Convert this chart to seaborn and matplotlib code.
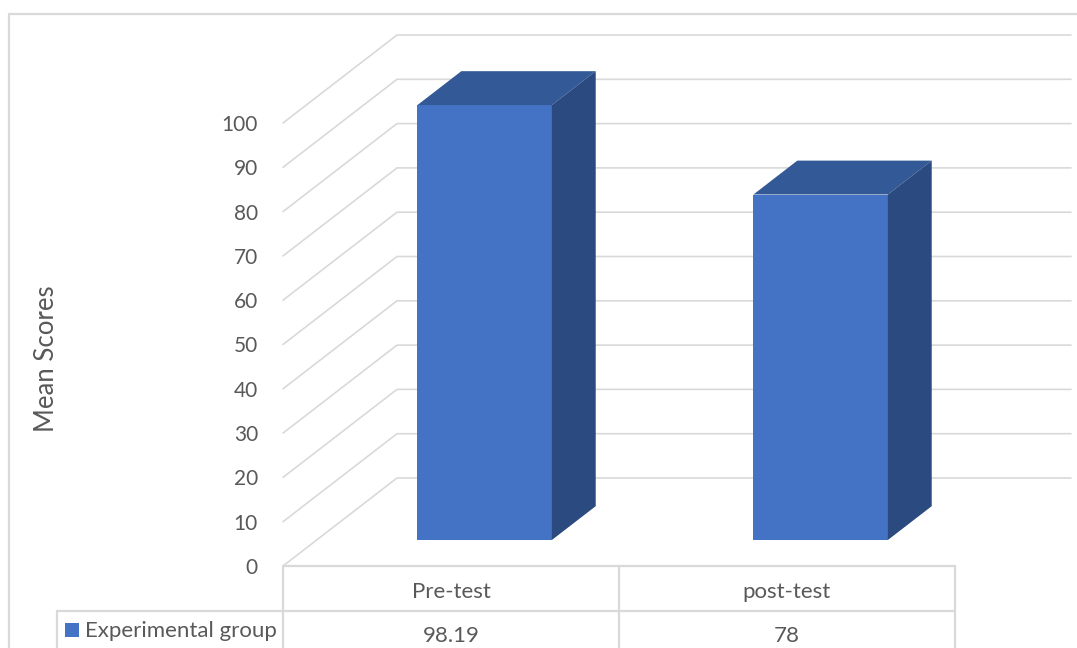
import matplotlib
matplotlib.use("Agg")
import matplotlib.pyplot as plt
import matplotlib.transforms as mtransforms
from matplotlib.patches import Polygon, Rectangle
from matplotlib.lines import Line2D
import seaborn as sns
import pandas as pd

# ---- data ----
categories = ["Pre-test", "post-test"]
scores = [98.19, 78]
value_labels = ["98.19", "78"]
series_name = "Experimental group"
y_ticks = [0, 10, 20, 30, 40, 50, 60, 70, 80, 90, 100]
y_label = "Mean Scores"

# ---- style ----
FRONT = "#4472C4"
TOP = "#335996"
SIDE = "#2B4B80"
GRID = "#D9D9D9"
TEXT = "#595959"
FONT = "Lato"

sns.set_theme(style="white")
plt.rcParams["font.family"] = [FONT, "DejaVu Sans"]

W, H = 1077, 648
fig = plt.figure(figsize=(W / 100, H / 100), dpi=100)
fig.patch.set_facecolor("white")


def fx(px):
    return px / W


def fy(py):
    return 1 - py / H


# plotting area: front plane of the 3-D box; one category = 336 px, 1 unit = 4.43 px
PX_CAT = 336.0
PX_UNIT = 4.43
ax_left, ax_bottom_px = 283, 566
ax = fig.add_axes([fx(ax_left), fy(ax_bottom_px), fx(W - ax_left), ax_bottom_px / H])
ax.set_facecolor("none")

# oblique depth of the whole box (in data units)
DX = 114 / PX_CAT
DV = 88 / PX_UNIT
# bars sit in the middle of the depth
F0, F1 = 0.295, 0.68

df = pd.DataFrame({"cat": categories, "score": scores})
sns.barplot(data=df, x="cat", y="score", color=FRONT, saturation=1, width=0.4,
            ax=ax, zorder=3, linewidth=0)

ax.set_xlim(-0.5, -0.5 + (W - ax_left) / PX_CAT)
ax.set_ylim(0, ax_bottom_px / PX_UNIT)

# push bar fronts back to their depth and add the top and side faces
off = mtransforms.Affine2D().translate(F0 * DX, F0 * DV) + ax.transData
ddx, ddv = (F1 - F0) * DX, (F1 - F0) * DV
for bar in ax.patches[:len(scores)]:
    bar.set_transform(off)
    xl = bar.get_x()
    xr = xl + bar.get_width()
    v = bar.get_height()
    top = Polygon([(xl, v), (xr, v), (xr + ddx, v + ddv), (xl + ddx, v + ddv)],
                  closed=True, facecolor=TOP, edgecolor="none", transform=off, zorder=4)
    side = Polygon([(xr, 0), (xr, v), (xr + ddx, v + ddv), (xr + ddx, ddv)],
                   closed=True, facecolor=SIDE, edgecolor="none", transform=off, zorder=4)
    ax.add_patch(top)
    ax.add_patch(side)

# gridlines: left-wall diagonal then back wall
x_front = -0.5
x_end = -0.5 + (1071 - ax_left) / PX_CAT
for t in y_ticks:
    ax.add_line(Line2D([x_front, x_front + DX, x_end], [t, t + DV, t + DV],
                       color=GRID, lw=1.2, zorder=1, clip_on=False))

# axis appearance
ax.set_yticks(y_ticks)
ax.set_yticklabels([str(t) for t in y_ticks], fontsize=15, color=TEXT, family=FONT)
ax.tick_params(axis="y", length=0, pad=18)
ax.set_xticks([])
ax.set_xlabel("")
ax.set_ylabel("")
for s in ax.spines.values():
    s.set_visible(False)

fig.text(fx(47), fy(359), y_label, rotation=90, ha="center", va="center",
         fontsize=18.5, color=TEXT, family=FONT)

# ---- data table below the plot ----
blend = mtransforms.blended_transform_factory(ax.transData, fig.transFigure)
table_top, row_split, table_bot = 566, 611, 660
col_edges = [-0.5 + i for i in range(len(categories) + 1)]
lw_t = 1.6
# horizontal rules
fig.add_artist(Line2D([col_edges[0], col_edges[-1]], [fy(table_top)] * 2,
                      transform=blend, color=GRID, lw=lw_t))
fig.add_artist(Line2D([fx(57), fx(ax_left)], [fy(row_split)] * 2,
                      transform=fig.transFigure, color=GRID, lw=lw_t))
fig.add_artist(Line2D([col_edges[0], col_edges[-1]], [fy(row_split)] * 2,
                      transform=blend, color=GRID, lw=lw_t))
# vertical rules
for c in col_edges:
    fig.add_artist(Line2D([c, c], [fy(table_top), fy(table_bot)],
                          transform=blend, color=GRID, lw=lw_t))
fig.add_artist(Line2D([fx(57), fx(57)], [fy(row_split), fy(table_bot)],
                      transform=fig.transFigure, color=GRID, lw=lw_t))

for i, (cat, lab) in enumerate(zip(categories, value_labels)):
    fig.text(i, fy(598), cat, transform=blend, ha="center", va="baseline",
             fontsize=16, color=TEXT, family=FONT)
    fig.text(i, fy(642), lab, transform=blend, ha="center", va="baseline",
             fontsize=16, color=TEXT, family=FONT)

# legend key in the row header
fig.add_artist(Rectangle((fx(65), fy(637)), fx(14), 14 / H, transform=fig.transFigure,
                         facecolor=FRONT, edgecolor="none"))
fig.text(fx(85), fy(637), series_name, ha="left", va="baseline",
         fontsize=16, color=TEXT, family=FONT)

# chart-area border
fig.add_artist(Line2D([fx(9), fx(9), fx(W + 5)], [fy(H + 5), fy(14), fy(14)],
                      transform=fig.transFigure, color=GRID, lw=1.6))

fig.savefig("out.png", dpi=100, facecolor="white")
